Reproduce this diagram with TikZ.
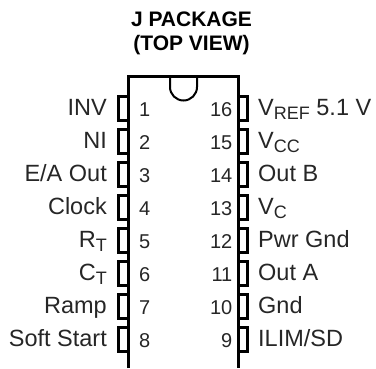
\documentclass[tikz,border=0pt]{standalone}
\usepackage{fontspec}
\setmainfont{Liberation Sans}
\usetikzlibrary{positioning}
\newcommand{\subtxt}[1]{\raisebox{-4.5pt}{\fontsize{18}{18}\selectfont #1}}
\tikzset{
    pinbox/.style={line width=2.1pt, line join=miter},
    bodyline/.style={line width=3pt, line cap=butt, line join=miter},
    pinnum/.style={inner sep=0pt, text=black!85, font=\fontsize{20}{20}\selectfont},
    pinlabel/.style={inner sep=0pt, text=black!85, font=\fontsize{23.5}{23.5}\selectfont},
    titletext/.style={inner sep=0pt, font=\fontsize{21}{21}\selectfont\bfseries}
}
\begin{document}
\begin{tikzpicture}[x=1pt, y=-1pt]
    \useasboundingbox (0,0) rectangle (376,368);

    % title
    \node[titletext, anchor=base] (title1) at (191.5,26) {J PACKAGE};
    \node[titletext, anchor=base] (title2) at (191.5,50) {(TOP VIEW)};

    % package outline with notch
    \draw[bodyline] (128,368) -- (128,76.5) -- (238,76.5) -- (238,368);
    \draw[line width=2pt] (170,76.5) -- (170,87) arc[start angle=180, end angle=0, x radius=13.5, y radius=13.5] -- (197,76.5);

    % pins, left side
    \foreach \n/\txt [count=\i from 0] in {1/INV, 2/NI, 3/E\slash A Out, 4/Clock, 5/R\subtxt{T}, 6/C\subtxt{T}, 7/Ramp, 8/Soft Start} {
        \draw[pinbox] (128,{96.5+33*\i}) -- (118.5,{96.5+33*\i}) -- (118.5,{120.5+33*\i}) -- (128,{120.5+33*\i});
        \node[pinnum, anchor=base west] (num\n) at (139,{116.5+33*\i}) {\n};
        \node[pinlabel, anchor=base east] (lab\n) at (107,{115+33*\i}) {\txt};
    }

    % pins, right side
    \foreach \n/\txt [count=\i from 0] in {16/V\subtxt{REF} 5.1 V, 15/V\subtxt{CC}, 14/Out B, 13/V\subtxt{C}, 12/Pwr Gnd, 11/Out A, 10/Gnd, 9/ILIM\slash SD} {
        \draw[pinbox] (238,{96.5+33*\i}) -- (247.5,{96.5+33*\i}) -- (247.5,{120.5+33*\i}) -- (238,{120.5+33*\i});
        \node[pinnum, anchor=base east] (num\n) at (232.5,{116.5+33*\i}) {\n};
        \node[pinlabel, anchor=base west] (lab\n) at (258,{115+33*\i}) {\txt};
    }
\end{tikzpicture}
\end{document}
